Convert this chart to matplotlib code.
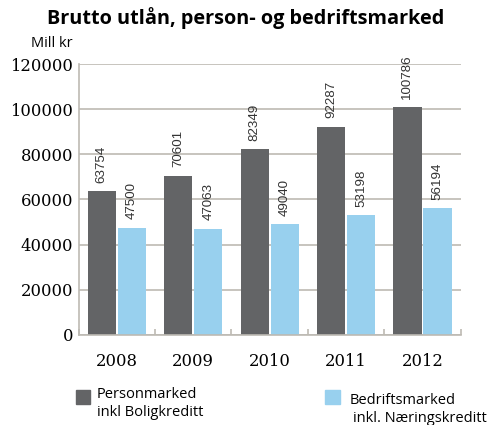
import numpy as np
import matplotlib
matplotlib.use("Agg")
import matplotlib.pyplot as plt
from matplotlib.patches import Rectangle

years = ["2008", "2009", "2010", "2011", "2012"]
person = [63754, 70601, 82349, 92287, 100786]
bedrift = [47500, 47063, 49040, 53198, 56194]
yticks = [0, 20000, 40000, 60000, 80000, 100000, 120000]

dark = "#636466"
light = "#98d0ee"
grid = "#bdbab3"

fig = plt.figure(figsize=(4.94, 4.25), dpi=100)
ax = fig.add_axes([0.1593, 0.2118, 0.7733, 0.6376])

x = np.arange(len(years))
w = 0.37
b1 = ax.bar(x - 0.197, person, w, color=dark, zorder=3)
b2 = ax.bar(x + 0.197, bedrift, w, color=light, zorder=3)
for bars in (b1, b2):
    ax.bar_label(bars, padding=6, rotation=90, fontsize=9.6,
                 family="Liberation Sans", color="#333333")

ax.set_xlim(-0.5, 4.5)
ax.set_ylim(0, 120000)
ax.set_yticks(yticks)
ax.set_yticklabels([str(v) for v in yticks], family="DejaVu Serif", fontsize=11.8)
ax.set_xticks(x)
ax.set_xticklabels(years, family="DejaVu Serif", fontsize=11.8)
ax.tick_params(axis="both", length=0)
ax.tick_params(axis="y", pad=4)
ax.tick_params(axis="x", pad=13)
ax.set_xticks(np.arange(-0.5, 5, 1), minor=True)
ax.tick_params(axis="x", which="minor", direction="in", length=4.5,
               width=1.2, color=grid)
ax.yaxis.grid(True, color=grid, linewidth=1.2, zorder=0)
for s in ("top", "right"):
    ax.spines[s].set_visible(False)
for s in ("left", "bottom"):
    ax.spines[s].set_color(grid)
    ax.spines[s].set_linewidth(1.2)
    ax.spines[s].set_zorder(4)

fig.text(0.497, 0.958, "Brutto utlån, person- og bedriftsmarked", ha="center",
         va="center", fontsize=14.3, fontweight="bold", family="Open Sans")
fig.text(0.148, 0.897, "Mill kr", ha="right", va="center", fontsize=10.5,
         family="Open Sans")

# legend
fig.patches.append(Rectangle((76 / 494, 1 - 404 / 425), 14 / 494, 14 / 425,
                             transform=fig.transFigure, color=dark))
fig.text(97 / 494, 1 - 394 / 425, "Personmarked", va="center", fontsize=10.5,
         family="Open Sans")
fig.text(97 / 494, 1 - 412 / 425, "inkl Boligkreditt", va="center", fontsize=10.5,
         family="Open Sans")
fig.patches.append(Rectangle((325 / 494, 1 - 404 / 425), 15 / 494, 14 / 425,
                             transform=fig.transFigure, color=light))
fig.text(350 / 494, 1 - 400 / 425, "Bedriftsmarked", va="center", fontsize=10.5,
         family="Open Sans")
fig.text(353 / 494, 1 - 418 / 425, "inkl. Næringskreditt", va="center",
         fontsize=10.5, family="Open Sans")

fig.savefig("out.png", dpi=100)
